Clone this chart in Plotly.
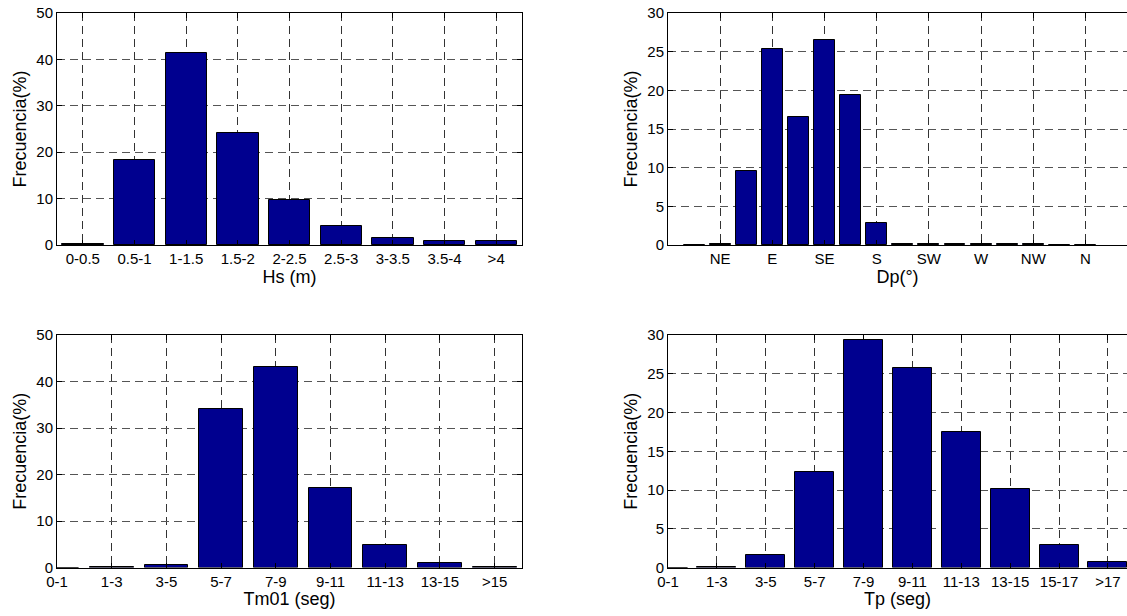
import plotly.graph_objects as go

# ---------------- data ----------------
hs_labels = ['0-0.5', '0.5-1', '1-1.5', '1.5-2', '2-2.5', '2.5-3', '3-3.5', '3.5-4', '>4']
hs_pos = [1, 2, 3, 4, 5, 6, 7, 8, 9]
hs_freq = [0.25, 18.4, 41.4, 24.2, 9.8, 4.0, 1.6, 0.85, 0.85]

dp_labels = ['NE', 'E', 'SE', 'S', 'SW', 'W', 'NW', 'N']
dp_ticks = [45, 90, 135, 180, 225, 270, 315, 360]
dp_deg = [22.5, 45, 67.5, 90, 112.5, 135, 157.5, 180, 202.5, 225, 247.5, 270, 292.5, 315, 337.5, 360]
dp_freq = [0, 0.12, 9.6, 25.4, 16.6, 26.5, 19.4, 2.85, 0.12, 0.12, 0.12, 0.12, 0.12, 0.12, 0, 0]

tm_labels = ['0-1', '1-3', '3-5', '5-7', '7-9', '9-11', '11-13', '13-15', '>15']
tm_pos = [0, 2, 4, 6, 8, 10, 12, 14, 16]
tm_freq = [0, 0.05, 0.6, 34.1, 43.1, 17.1, 4.8, 1.0, 0.2]

tp_labels = ['0-1', '1-3', '3-5', '5-7', '7-9', '9-11', '11-13', '13-15', '15-17', '>17']
tp_pos = [0, 2, 4, 6, 8, 10, 12, 14, 16, 18]
tp_freq = [0, 0.1, 1.6, 12.3, 29.4, 25.8, 17.45, 10.1, 2.9, 0.75]

# ---------------- style ----------------
W, H = 1127, 616
BAR = '#00008F'
FONT = 'Liberation Sans, Arial, sans-serif'
TICK_FS = 15
TITLE_FS = 18

def px_x(a, b):
    return [a / W, min(1.0, b / W)]

def px_y(top, bottom):
    return [1 - bottom / H, 1 - top / H]

fig = go.Figure()

def add_bars(x, y, width, xa, ya):
    fig.add_trace(go.Bar(
        x=x, y=y, width=width, xaxis=xa, yaxis=ya,
        marker=dict(color=BAR, line=dict(color='black', width=1)),
        showlegend=False, hoverinfo='x+y'))

add_bars(hs_pos, hs_freq, 0.8, 'x', 'y')
add_bars(dp_deg, dp_freq, 18, 'x2', 'y2')
add_bars(tm_pos, tm_freq, 1.6, 'x3', 'y3')
add_bars(tp_pos, tp_freq, 1.6, 'x4', 'y4')

def xaxis(domain, rng, tickvals, ticktext, title, anchor):
    return dict(domain=domain, range=rng, anchor=anchor, automargin=False,
                tickmode='array', tickvals=tickvals, ticktext=ticktext,
                showline=True, linecolor='black', linewidth=1, mirror='ticks',
                ticks='inside', ticklen=5, tickcolor='black',
                showgrid=True, gridcolor='#333333', griddash='8px,5px', gridwidth=1,
                zeroline=False, ticklabeloverflow='allow',
                tickfont=dict(family=FONT, size=TICK_FS, color='black'),
                title=dict(text=title, standoff=0,
                           font=dict(family=FONT, size=TITLE_FS, color='black')))

def yaxis(domain, rng, dtick, anchor, mirror):
    return dict(domain=domain, range=rng, anchor=anchor, dtick=dtick, tick0=0,
                automargin=False,
                showline=True, linecolor='black', linewidth=1, mirror=mirror,
                ticks='inside', ticklen=5, tickcolor='black',
                showgrid=True, gridcolor='#555555', griddash='8px,5px', gridwidth=1,
                zeroline=False,
                tickfont=dict(family=FONT, size=TICK_FS, color='black'),
                title=dict(text='Frecuencia(%)', standoff=5,
                           font=dict(family=FONT, size=TITLE_FS, color='black')))

LX = px_x(57, 522)
RX = px_x(668, 1127)
TY = px_y(13, 245)
BY = px_y(335, 567.5)

fig.update_layout(
    width=W, height=H,
    margin=dict(l=0, r=0, t=0, b=0, pad=0),
    paper_bgcolor='white', plot_bgcolor='white',
    bargap=0,
    xaxis=xaxis(LX, [0.5, 9.5], hs_pos, hs_labels, 'Hs (m)', 'y'),
    yaxis=yaxis(TY, [0, 50], 10, 'x', 'ticks'),
    xaxis2=xaxis(RX, [0, 395.8], dp_ticks, dp_labels, 'Dp(°)', 'y2'),
    yaxis2=yaxis(TY, [0, 30], 5, 'x2', False),
    xaxis3=xaxis(LX, [0, 17], tm_pos, tm_labels, 'Tm01 (seg)', 'y3'),
    yaxis3=yaxis(BY, [0, 50], 10, 'x3', 'ticks'),
    xaxis4=xaxis(RX, [0, 18.78], tp_pos, tp_labels, 'Tp (seg)', 'y4'),
    yaxis4=yaxis(BY, [0, 30], 5, 'x4', False),
)

fig.write_html('out.html',
               config={'displayModeBar': False},
               post_script="document.body.style.margin='0';document.body.style.overflow='hidden';")
